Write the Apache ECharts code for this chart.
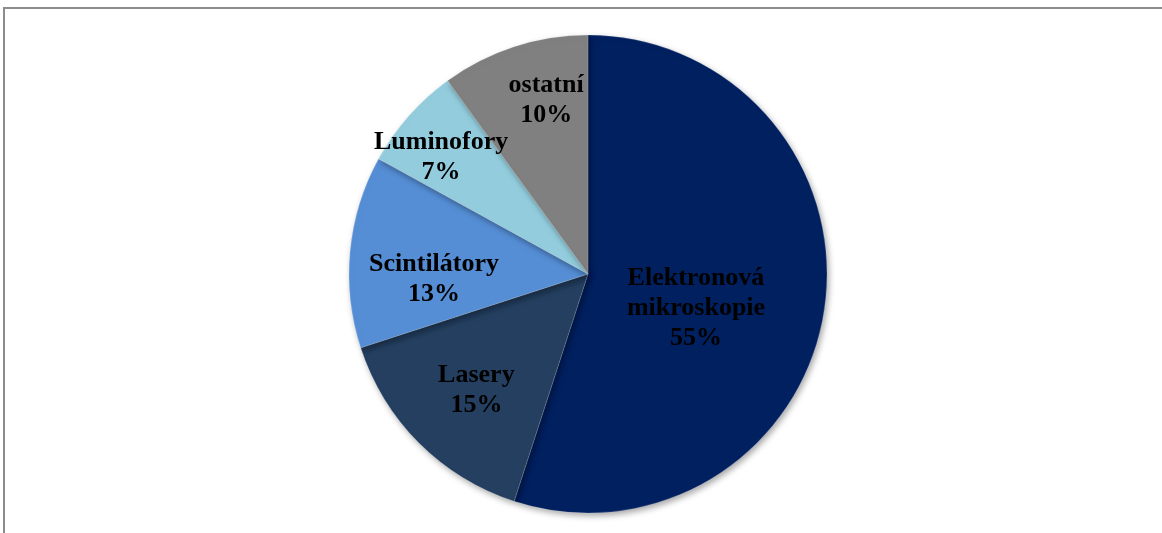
<!DOCTYPE html>
<html>
<head>
<meta charset="utf-8">
<script src="https://cdn.jsdelivr.net/npm/echarts@6/dist/echarts.min.js"></script>
<style>
  html, body { margin: 0; padding: 0; background: #fff; }
  #frame {
    position: absolute; left: 3px; top: 7px; width: 1400px; height: 600px;
    border-top: 2px solid #8c8c8c; border-left: 2px solid #8c8c8c;
  }
  #chart { position: absolute; left: 0; top: 0; width: 1162px; height: 533px; }
</style>
</head>
<body>
<div id="frame"></div>
<div id="chart"></div>
<script>
// data
const categories = ['Elektronová\nmikroskopie', 'Lasery', 'Scintilátory', 'Luminofory', 'ostatní'];
const values = [55, 15, 13, 7, 10];

// styles
const colors = ['#002060', '#243F60', '#558ED5', '#93CDDD', '#808080'];
const labelShift = [[-13, 15], [-25, 30], [-32, 17], [-55, -36], [-4, -57]];

const chart = echarts.init(document.getElementById('chart'));
const option = {
  animation: false,
  series: [{
    type: 'pie',
    center: [588, 274],
    radius: 239,
    startAngle: 90,
    clockwise: true,
    data: categories.map((name, i) => ({
      name: name,
      value: values[i],
      itemStyle: { color: colors[i] }
    })),
    itemStyle: {
      borderColor: 'rgba(255,255,255,0.35)',
      borderWidth: 0.5,
      shadowBlur: 6,
      shadowOffsetX: 2,
      shadowOffsetY: 3,
      shadowColor: 'rgba(0,0,0,0.35)'
    },
    label: {
      position: 'inside',
      formatter: '{b}\n{d}%',
      fontFamily: '"Liberation Serif", "Times New Roman", serif',
      fontWeight: 'bold',
      fontSize: 26,
      lineHeight: 30,
      color: '#000',
      align: 'center'
    },
    labelLayout: function (p) {
      return { dx: labelShift[p.dataIndex][0], dy: labelShift[p.dataIndex][1] };
    },
    emphasis: { disabled: true }
  }]
};
chart.setOption(option);
</script>
</body>
</html>
